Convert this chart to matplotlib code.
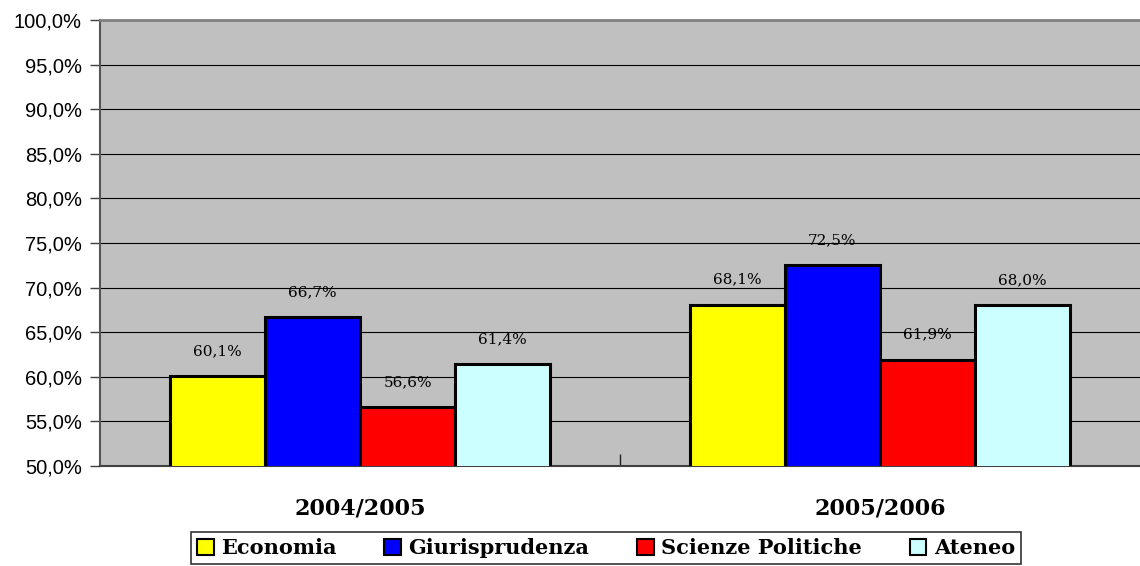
import numpy as np
import matplotlib
matplotlib.use("Agg")
import matplotlib.pyplot as plt
from matplotlib.ticker import FixedLocator, FuncFormatter

# data
years = ["2004/2005", "2005/2006"]
series = ["Economia", "Giurisprudenza", "Scienze Politiche", "Ateneo"]
economia = [60.1, 68.1]
giurisprudenza = [66.7, 72.5]
scienze_politiche = [56.6, 61.9]
ateneo = [61.4, 68.0]
colors = ["#FFFF00", "#0000FF", "#FF0000", "#CCFFFF"]

values = [economia, giurisprudenza, scienze_politiche, ateneo]

fig = plt.figure(figsize=(11.4, 5.66), dpi=100)
ax = fig.add_axes([100 / 1140, 1 - 466 / 566, 1 - 100 / 1140, 446 / 566])
ax.set_facecolor("#C0C0C0")

x = np.arange(len(years))
w = 0.183
for i, (name, vals, c) in enumerate(zip(series, values, colors)):
    pos = x + (i - 1.5) * w
    ax.bar(pos, vals, width=w, bottom=0, color=c, edgecolor="black",
           linewidth=2.2, label=name, zorder=3)
    for px, v in zip(pos, vals):
        ax.annotate(f"{v:.1f}%".replace(".", ","), (px, v), xytext=(0, 13),
                    textcoords="offset points", ha="center", va="bottom",
                    family="DejaVu Serif", fontsize=11, zorder=4)

ax.set_ylim(50, 100)
ax.set_xlim(-0.5, 1.5)
ax.yaxis.set_major_locator(FixedLocator(np.arange(50, 100.1, 5)))
ax.yaxis.set_major_formatter(FuncFormatter(lambda v, p: f"{v:.1f}%".replace(".", ",")))
ax.grid(axis="y", color="black", linewidth=0.8, zorder=1)
ax.set_axisbelow(True)

ax.set_xticks(x)
ax.set_xticklabels(years, family="DejaVu Serif", fontweight="bold", fontsize=16)
ax.tick_params(axis="x", which="major", length=0, pad=23)
ax.set_xticks([0.5], minor=True)
ax.tick_params(axis="x", which="minor", direction="in", length=9, width=1, color="#202020")
ax.tick_params(axis="y", length=7, width=1, color="#404040", pad=6)
for lab in ax.get_yticklabels():
    lab.set_family("Liberation Sans")
    lab.set_fontsize(14.5)

ax.spines["right"].set_visible(False)
ax.spines["top"].set_color("#808080")
ax.spines["top"].set_linewidth(2)
ax.spines["left"].set_color("#555555")
ax.spines["left"].set_linewidth(1.5)
ax.spines["bottom"].set_color("#404040")
ax.spines["bottom"].set_linewidth(1.5)

leg = fig.legend(loc="upper center", bbox_to_anchor=(606 / 1140, 1 - 532 / 566),
                 ncol=4, frameon=True, fancybox=False, shadow=False,
                 handlelength=0.8, handleheight=0.8, handletextpad=0.35,
                 columnspacing=2.3, borderpad=0.28, borderaxespad=0,
                 prop={"family": "DejaVu Serif", "weight": "bold", "size": 15})
leg.get_frame().set_edgecolor("black")
leg.get_frame().set_linewidth(1.2)
for h in leg.legend_handles:
    h.set_linewidth(1.5)

fig.savefig("out.png", dpi=100)
